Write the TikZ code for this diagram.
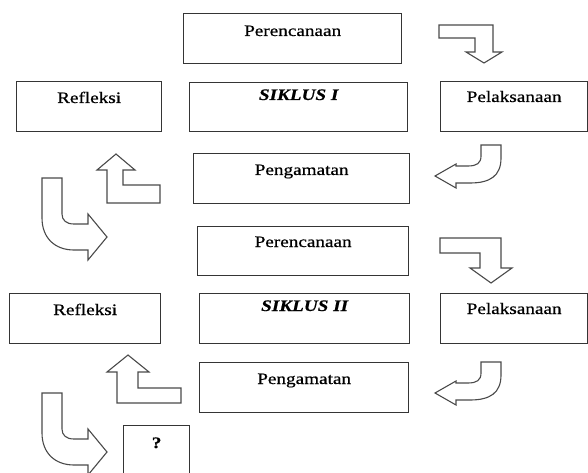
\documentclass[tikz,border=0pt]{standalone}
\usepackage{fontspec}
\newfontfamily\boxfont{Liberation Serif}[FakeStretch=1.2,FakeBold=0.6]
\definecolor{boxline}{HTML}{353535}
\definecolor{arrline}{HTML}{4A4A4A}
\tikzset{
  stagebox/.style={draw=boxline, line width=1.3pt, rectangle, inner sep=0pt, anchor=north west},
  lbl/.style={inner sep=0pt, anchor=base, font=\boxfont\fontsize{16}{19}\selectfont, text=black},
  cyc/.style={inner sep=0pt, anchor=base, font=\boxfont\fontsize{16}{19}\selectfont\bfseries\itshape, text=black},
  blockarrow/.style={draw=arrline, line width=1.1pt, fill=white, line join=miter},
}
\begin{document}
\begin{tikzpicture}[x=1pt,y=-1pt]
\useasboundingbox (0,0) rectangle (588,473);
% ---- cycle I ----
\node[stagebox, minimum width=218pt, minimum height=50pt] (p1) at (183,13) {};
\node[lbl] (p1t) at ([yshift=-23pt]p1.north) {Perencanaan};
\node[stagebox, minimum width=145pt, minimum height=50pt] (r1) at (16,81) {};
\node[lbl] (r1t) at ([yshift=-22pt]r1.north) {Refleksi};
\node[stagebox, minimum width=218pt, minimum height=49pt] (s1) at (189,82) {};
\node[cyc] (s1t) at ([yshift=-18pt]s1.north) {SIKLUS I};
\node[stagebox, minimum width=147pt, minimum height=50pt] (l1) at (440,81) {};
\node[lbl] (l1t) at ([yshift=-21pt]l1.north) {Pelaksanaan};
\node[stagebox, minimum width=216pt, minimum height=50pt] (g1) at (193,153) {};
\node[lbl] (g1t) at ([yshift=-22pt]g1.north) {Pengamatan};
% ---- cycle II ----
\node[stagebox, minimum width=211pt, minimum height=49pt] (p2) at (197,226) {};
\node[lbl] (p2t) at ([yshift=-21pt]p2.north) {Perencanaan};
\node[stagebox, minimum width=151pt, minimum height=50pt] (r2) at (9,293) {};
\node[lbl] (r2t) at ([yshift=-22pt]r2.north) {Refleksi};
\node[stagebox, minimum width=210pt, minimum height=50pt] (s2) at (199,293) {};
\node[cyc] (s2t) at ([yshift=-18pt]s2.north) {SIKLUS II};
\node[stagebox, minimum width=147pt, minimum height=50pt] (l2) at (440,293) {};
\node[lbl] (l2t) at ([yshift=-21pt]l2.north) {Pelaksanaan};
\node[stagebox, minimum width=209pt, minimum height=50pt] (g2) at (199,362) {};
\node[lbl] (g2t) at ([yshift=-22pt]g2.north) {Pengamatan};
\node[stagebox, minimum width=66pt, minimum height=52pt] (q) at (123,425) {};
\node[lbl, font=\boxfont\fontsize{16}{19}\selectfont\bfseries] (qt) at ([yshift=-23pt]q.north) {?};
% ---- bent down arrows (right) ----
\draw[blockarrow] (439,25) -- (493,25) -- (493,52) -- (502,52) -- (484,63) -- (466,52) -- (475,52) -- (475,38) -- (439,38) -- cycle;
\draw[blockarrow] (440,238) -- (501,238) -- (501,268) -- (512,268) -- (491,283) -- (470,268) -- (480,268) -- (480,253) -- (440,253) -- cycle;
% ---- curved left arrows (right) ----
\foreach \dy in {0,217}{
\draw[blockarrow, yshift=-\dy pt] (481,145) -- (501,145) -- (501,158) .. controls (501,176) and (490,183) .. (470,183) -- (456,183) -- (456,188) -- (435,176) -- (456,164) -- (456,166) -- (468,166) .. controls (477,166) and (481,163) .. (481,156) -- cycle;
}
% ---- up arrows (left) ----
\draw[blockarrow] (107,203) -- (107,170) -- (97,170) -- (116,154) -- (135,170) -- (123,170) -- (123,185) -- (160,185) -- (160,203) -- cycle;
\draw[blockarrow] (117,403) -- (117,372) -- (107,372) -- (128,355) -- (149,372) -- (138,372) -- (138,388) -- (181,388) -- (181,403) -- cycle;
% ---- curved right arrows (left) ----
\foreach \dy in {0,215}{
\draw[blockarrow, yshift=-\dy pt] (42,178) -- (62,178) -- (62,214) .. controls (62,220) and (66,224) .. (74,224) -- (88,224) -- (88,214) -- (107,237) -- (88,260) -- (88,250) -- (74,250) .. controls (55,250) and (42,238) .. (42,218) -- cycle;
}
\end{tikzpicture}
\end{document}
